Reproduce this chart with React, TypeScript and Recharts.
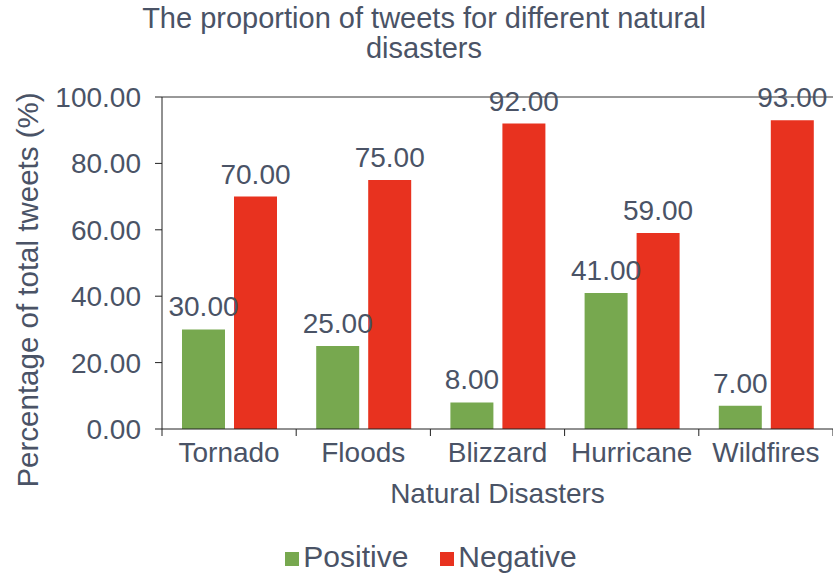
import { Bar, BarChart, LabelList, Legend, ReferenceLine, XAxis, YAxis } from "recharts"

const disasters = ["Tornado", "Floods", "Blizzard", "Hurricane", "Wildfires"]
const positive = [30, 25, 8, 41, 7]
const negative = [70, 75, 92, 59, 93]
const yTicks = [0, 20, 40, 60, 80, 100]
// boundaries (integers) get a tick mark, half steps carry the category name
const xTicks = [0, 0.5, 1, 1.5, 2, 2.5, 3, 3.5, 4, 4.5, 5]

const data = disasters.map((name, i) => ({
  name,
  idx: i + 0.5,
  Positive: positive[i],
  Negative: negative[i],
}))

const ink = "#4a5366"
const fs = 28
const fmt = (v: unknown) => (typeof v === "number" ? v.toFixed(2) : String(v))

const YLabel = () => (
  <text
    x={27}
    y={290}
    transform="rotate(-90, 27, 290)"
    textAnchor="middle"
    dominantBaseline="central"
    fill={ink}
    fontSize={29.5}
  >
    Percentage of total tweets (%)
  </text>
)

const XTick = (props: any) => {
  const { x, y, payload } = props
  const v = payload.value as number
  if (Number.isInteger(v)) {
    return <line x1={x} x2={x} y1={y - 8} y2={y - 1} stroke="#222" />
  }
  return (
    <text x={x} y={y + 25} textAnchor="middle" fill={ink} fontSize={fs}>
      {disasters[Math.floor(v)]}
    </text>
  )
}

export default function App() {
  return (
    <div
      style={{
        position: "absolute",
        left: 0,
        top: 0,
        width: 833,
        height: 573,
        background: "#fff",
        fontFamily: "'Liberation Sans', Arial, sans-serif",
      }}
    >
      <div
        style={{
          position: "absolute",
          left: 0,
          width: 848,
          top: 3,
          textAlign: "center",
          fontSize: 29,
          lineHeight: "30px",
          color: ink,
        }}
      >
        The proportion of tweets for different natural
        <br />
        disasters
      </div>
      <BarChart
        width={833}
        height={573}
        data={data}
        margin={{ top: 97, right: 0, bottom: 70, left: 62 }}
        barCategoryGap={20}
        barGap={9}
      >
        <XAxis dataKey="name" hide height={0} />
        <XAxis
          xAxisId="bounds"
          type="number"
          dataKey="idx"
          domain={[0, 5]}
          ticks={xTicks}
          interval={0}
          tick={<XTick />}
          tickLine={false}
          axisLine={{ stroke: "#222" }}
          height={40}
          label={{ value: "Natural Disasters", position: "insideBottom", offset: -34, fill: ink, fontSize: fs }}
        />
        <YAxis
          domain={[0, 100]}
          ticks={yTicks}
          tickFormatter={fmt}
          tick={{ fill: ink, fontSize: fs }}
          tickLine={{ stroke: "#222" }}
          tickSize={7}
          tickMargin={14}
          axisLine={{ stroke: "#222" }}
          width={100}
          label={<YLabel />}
        />
        <ReferenceLine y={100} stroke="#333" />
        <Legend
          iconType="square"
          iconSize={14}
          verticalAlign="bottom"
          itemSorter={(item: any) => (item.dataKey === "Positive" ? 0 : 1)}
          wrapperStyle={{ top: 540, left: 8, width: 856, fontSize: 30 }}
          formatter={(v) => (
            <span style={{ color: ink, marginRight: v === "Positive" ? 22 : 0 }}>{v}</span>
          )}
        />
        <Bar dataKey="Positive" fill="#77a84f" isAnimationActive={false}>
          <LabelList dataKey="Positive" position="top" formatter={fmt} fill={ink} fontSize={fs} offset={13} />
        </Bar>
        <Bar dataKey="Negative" fill="#e8321f" isAnimationActive={false}>
          <LabelList dataKey="Negative" position="top" formatter={fmt} fill={ink} fontSize={fs} offset={13} />
        </Bar>
      </BarChart>
    </div>
  )
}
